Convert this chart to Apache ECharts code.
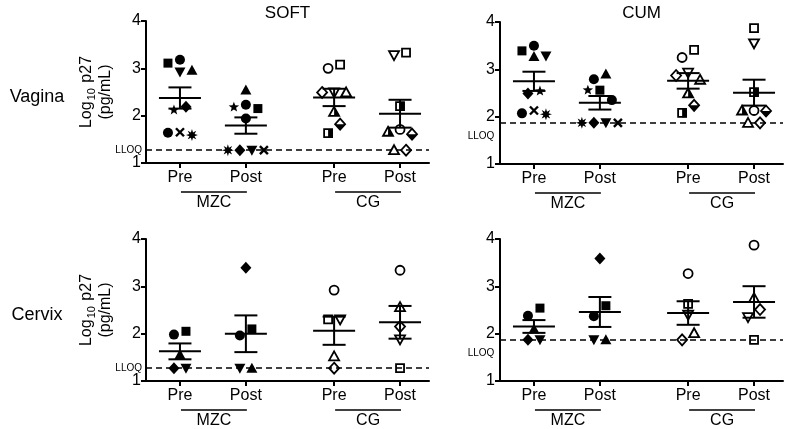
<!DOCTYPE html>
<html><head><meta charset="utf-8">
<script src="https://cdn.jsdelivr.net/npm/echarts@6/dist/echarts.min.js"></script>
<style>html,body{margin:0;padding:0;background:#fff}#c{width:791px;height:429px}</style>
</head><body><div id="c"></div><script>
// ---------- DATA ----------
const groupLabels = ['Pre', 'Post', 'Pre', 'Post'];
const armLabels = ['MZC', 'CG'];
const panelTitles = ['SOFT', 'CUM'];
const rowLabels = ['Vagina', 'Cervix'];
const yTicks = [1, 2, 3, 4];
const lloqSoft = 1.27;
const lloqCum = 1.87;

// subject symbols (one per participant)
const mzcVaginaSymbols = ['square', 'circle', 'tridown', 'tri', 'diamond', 'star', 'cross', 'asterisk', 'circle'];
const cgVaginaSymbols = ['osquare', 'ocircle', 'otridown', 'odiamond', 'otri', 'htri', 'hdiamond', 'hsquare'];
const mzcCervixSymbols = ['circle', 'square', 'tri', 'tridown', 'diamond'];
const cgCervixSymbols = ['ocircle', 'otridown', 'osquare', 'otri', 'odiamond'];

// SOFT, vagina
const softVagMzcPre  = [3.11, 3.18, 2.92, 2.96, 2.19, 2.12, 1.65, 1.59, 1.64];
const softVagMzcPost = [2.15, 2.23, 1.27, 2.54, 1.27, 2.18, 1.27, 1.27, 1.94];
const softVagCgPre   = [3.08, 3.00, 2.49, 2.49, 2.49, 2.08, 1.82, 1.63];
const softVagCgPost  = [3.33, 1.71, 3.28, 1.27, 1.27, 1.66, 1.61, 2.20];
// CUM, vagina
const cumVagMzcPre  = [3.39, 3.50, 3.28, 3.27, 2.49, 2.54, 2.13, 2.05, 2.07];
const cumVagMzcPost = [2.56, 2.79, 1.87, 2.90, 1.87, 2.56, 1.87, 1.87, 2.35];
const cumVagCgPre   = [3.41, 3.25, 2.93, 2.87, 2.78, 2.49, 2.24, 2.08];
const cumVagCgPost  = [3.87, 2.13, 3.55, 1.87, 1.87, 2.13, 2.12, 2.52];
// SOFT, cervix
const softCerMzcPre  = [1.98, 2.05, 1.56, 1.27, 1.27];
const softCerMzcPost = [1.96, 2.10, 1.27, 1.27, 3.39];
const softCerCgPre   = [2.92, 2.30, 2.30, 1.52, 1.27];
const softCerCgPost  = [3.34, 1.88, 1.27, 2.56, 2.15];
// CUM, cervix
const cumCerMzcPre  = [2.38, 2.54, 2.10, 1.87, 1.87];
const cumCerMzcPost = [2.37, 2.59, 1.87, 1.87, 3.59];
const cumCerCgPre   = [3.27, 2.40, 2.63, 2.01, 1.87];
const cumCerCgPost  = [3.87, 2.35, 1.87, 2.75, 2.51];

// ---------- LAYOUT ----------
const FONT = '"Liberation Sans", Arial, Helvetica, sans-serif';
const groupPos = [1.02, 3.0, 5.65, 7.63];
const X_MAX = 8.5;
const gridW = 283, gridH = 142;
const gridLayout = [{left: 146, top: 21}, {left: 500, top: 22}, {left: 146, top: 239}, {left: 500, top: 239}];

const panels = [
  {title: panelTitles[0], row: 0, col: 0, lloq: lloqSoft, vals: [softVagMzcPre, softVagMzcPost, softVagCgPre, softVagCgPost], syms: [mzcVaginaSymbols, cgVaginaSymbols]},
  {title: panelTitles[1], row: 0, col: 1, lloq: lloqCum, vals: [cumVagMzcPre, cumVagMzcPost, cumVagCgPre, cumVagCgPost], syms: [mzcVaginaSymbols, cgVaginaSymbols]},
  {title: null, row: 1, col: 0, lloq: lloqSoft, vals: [softCerMzcPre, softCerMzcPost, softCerCgPre, softCerCgPost], syms: [mzcCervixSymbols, cgCervixSymbols]},
  {title: null, row: 1, col: 1, lloq: lloqCum, vals: [cumCerMzcPre, cumCerMzcPost, cumCerCgPre, cumCerCgPost], syms: [mzcCervixSymbols, cgCervixSymbols]}
];

const symbolNames = ['square','circle','tri','tridown','diamond','star','cross','asterisk',
  'osquare','ocircle','otri','otridown','odiamond','htri','hdiamond','hsquare'];

// beeswarm offsets (pixels) so overlapping points spread sideways
function swarm(vals, pxPerUnit) {
  const d = 12, minD = 10.5;
  const idx = vals.map((v, i) => i).sort((a, b) => vals[b] - vals[a]);
  const off = new Array(vals.length).fill(0);
  const placed = [];
  idx.forEach(i => {
    const y = vals[i] * pxPerUnit;
    for (let k = 0; k < 30; k++) {
      const o = k === 0 ? 0 : (k % 2 ? -Math.ceil(k / 2) * d : Math.ceil(k / 2) * d);
      if (placed.every(p => Math.hypot(p.o - o, p.y - y) >= minD)) { off[i] = o; placed.push({o, y, i}); break; }
    }
  });
  const sorted = placed.slice().sort((a, b) => b.y - a.y);
  let cl = [sorted[0]];
  const flush = () => { const m = cl.reduce((s, p) => s + p.o, 0) / cl.length; cl.forEach(p => off[p.i] -= m); };
  for (let k = 1; k < sorted.length; k++) {
    if (sorted[k - 1].y - sorted[k].y < minD) cl.push(sorted[k]); else { flush(); cl = [sorted[k]]; }
  }
  flush();
  return off;
}

function meanSem(a) {
  const n = a.length, m = a.reduce((s, v) => s + v, 0) / n;
  const sd = Math.sqrt(a.reduce((s, v) => s + (v - m) * (v - m), 0) / (n - 1));
  return [m, sd / Math.sqrt(n)];
}

const K = '#000';
function poly(points, style) { return {type: 'polygon', shape: {points}, style}; }
function starPts(x, y, n, ro, ri) {
  const pts = [];
  for (let i = 0; i < n * 2; i++) {
    const a = -Math.PI / 2 + i * Math.PI / n, r = i % 2 ? ri : ro;
    pts.push([x + r * Math.cos(a), y + r * Math.sin(a)]);
  }
  return pts;
}
function drawSymbol(name, x, y) {
  const solid = {fill: K};
  const open = {fill: '#fff', stroke: K, lineWidth: 1.8};
  switch (name) {
    case 'square': return [{type: 'rect', shape: {x: x - 4.5, y: y - 4.5, width: 9, height: 9}, style: solid}];
    case 'circle': return [{type: 'circle', shape: {cx: x, cy: y, r: 5}, style: solid}];
    case 'tri': return [poly([[x, y - 5.5], [x + 5.5, y + 4.5], [x - 5.5, y + 4.5]], solid)];
    case 'tridown': return [poly([[x, y + 5.5], [x + 5.5, y - 4.5], [x - 5.5, y - 4.5]], solid)];
    case 'diamond': return [poly([[x, y - 6], [x + 5.5, y], [x, y + 6], [x - 5.5, y]], solid)];
    case 'star': return [poly(starPts(x, y, 5, 5.5, 2.3), solid)];
    case 'asterisk': return [poly(starPts(x, y, 8, 6, 2.8), solid)];
    case 'cross': return [
      {type: 'line', shape: {x1: x - 4, y1: y - 4, x2: x + 4, y2: y + 4}, style: {stroke: K, lineWidth: 2.4}},
      {type: 'line', shape: {x1: x - 4, y1: y + 4, x2: x + 4, y2: y - 4}, style: {stroke: K, lineWidth: 2.4}}];
    case 'osquare': return [{type: 'rect', shape: {x: x - 4, y: y - 4, width: 8, height: 8}, style: open}];
    case 'ocircle': return [{type: 'circle', shape: {cx: x, cy: y, r: 4.5}, style: open}];
    case 'otri': return [poly([[x, y - 5], [x + 5, y + 4], [x - 5, y + 4]], open)];
    case 'otridown': return [poly([[x, y + 5], [x + 5, y - 4], [x - 5, y - 4]], open)];
    case 'odiamond': return [poly([[x, y - 5.5], [x + 5, y], [x, y + 5.5], [x - 5, y]], open)];
    case 'htri': return [poly([[x, y - 5], [x + 5, y + 4], [x - 5, y + 4]], open), poly([[x, y - 5], [x + 5, y + 4], [x, y + 4]], solid)];
    case 'hdiamond': return [poly([[x, y - 5.5], [x + 5, y], [x, y + 5.5], [x - 5, y]], open), poly([[x + 5, y], [x, y + 5.5], [x - 5, y]], solid)];
    case 'hsquare': return [{type: 'rect', shape: {x: x - 4, y: y - 4, width: 8, height: 8}, style: open},
      {type: 'rect', shape: {x: x, y: y - 4, width: 4.5, height: 8.5}, style: solid}];
  }
  return [];
}

const grids = [], xAxes = [], yAxes = [], series = [];
const pxPerUnit = gridH / (yTicks[yTicks.length - 1] - yTicks[0]);
panels.forEach((p, pi) => {
  grids.push({left: gridLayout[pi].left, top: gridLayout[pi].top, width: gridW, height: gridH});
  xAxes.push({
    gridIndex: pi, type: 'value', min: 0, max: X_MAX, splitLine: {show: false},
    axisLine: {show: true, onZero: false, lineStyle: {color: K, width: 2}},
    axisTick: {show: true, customValues: groupPos, length: 5, lineStyle: {color: K, width: 2}},
    axisLabel: {customValues: groupPos, color: K, fontSize: 16, fontFamily: FONT, margin: 7,
      formatter: v => { let b = 0; groupPos.forEach((g, i) => { if (Math.abs(g - v) < Math.abs(groupPos[b] - v)) b = i; }); return groupLabels[b]; }}
  });
  yAxes.push({
    gridIndex: pi, type: 'value', min: yTicks[0], max: yTicks[yTicks.length - 1], interval: 1, splitLine: {show: false},
    axisLine: {show: true, lineStyle: {color: K, width: 2}},
    axisTick: {show: true, length: 5, lineStyle: {color: K, width: 2}},
    axisLabel: {color: K, fontSize: 16, fontFamily: FONT, margin: 5}
  });
  const pts = [], bars = [];
  p.vals.forEach((vals, g) => {
    const syms = p.syms[g < 2 ? 0 : 1];
    const off = swarm(vals, pxPerUnit);
    vals.forEach((v, i) => pts.push([groupPos[g], v, symbolNames.indexOf(syms[i]), off[i]]));
    const ms = meanSem(vals);
    bars.push([groupPos[g], ms[0], ms[1]]);
  });
  series.push({
    type: 'custom', xAxisIndex: pi, yAxisIndex: pi, data: pts, clip: false, z: 3,
    encode: {x: 0, y: 1},
    renderItem: (params, api) => {
      const c = api.coord([api.value(0), api.value(1)]);
      return {type: 'group', children: drawSymbol(symbolNames[api.value(2)], c[0] + api.value(3), c[1])};
    }
  });
  series.push({
    type: 'custom', xAxisIndex: pi, yAxisIndex: pi, data: bars, clip: false, z: 4,
    encode: {x: 0, y: 1},
    renderItem: (params, api) => {
      const x = api.value(0), m = api.value(1), s = api.value(2);
      const cm = api.coord([x, m]), ch = api.coord([x, m + s]), cl = api.coord([x, m - s]);
      const st = {stroke: K, lineWidth: 2};
      return {type: 'group', children: [
        {type: 'line', shape: {x1: cm[0] - 21, y1: cm[1], x2: cm[0] + 21, y2: cm[1]}, style: st},
        {type: 'line', shape: {x1: ch[0] - 11.5, y1: ch[1], x2: ch[0] + 11.5, y2: ch[1]}, style: st},
        {type: 'line', shape: {x1: cl[0] - 11.5, y1: cl[1], x2: cl[0] + 11.5, y2: cl[1]}, style: st},
        {type: 'line', shape: {x1: ch[0], y1: ch[1], x2: cl[0], y2: cl[1]}, style: st}
      ]};
    },
    markLine: {silent: true, symbol: 'none', label: {show: false},
      lineStyle: {color: K, width: 1.5, type: [6, 4]}, data: [{yAxis: p.lloq}]}
  });
});

const chart = echarts.init(document.getElementById('c'), null, {renderer: 'canvas'});
chart.setOption({animation: false, backgroundColor: '#fff', grid: grids, xAxis: xAxes, yAxis: yAxes, series});

// ---------- annotations ----------
const gfx = [];
const txt = (x, y, text, size, extra) => Object.assign({type: 'text', x, y, style: Object.assign({text, fontSize: size, fontFamily: FONT, fill: K, align: 'center', verticalAlign: 'middle'}, extra || {})});
panels.forEach((p, pi) => {
  const gp = groupPos.map(x => chart.convertToPixel({gridIndex: pi}, [x, yTicks[0]]));
  const bottom = gp[0][1];
  const top = chart.convertToPixel({gridIndex: pi}, [0, yTicks[yTicks.length - 1]])[1];
  const axisX = chart.convertToPixel({gridIndex: pi}, [0, yTicks[0]])[0];
  const midY = (top + bottom) / 2;
  const lloqY = chart.convertToPixel({gridIndex: pi}, [0, p.lloq])[1];
  if (p.title) gfx.push(txt(axisX + gridW / 2, 13, p.title, 17));
  if (p.col === 0) {
    gfx.push(txt(37, midY + 5, rowLabels[p.row], 18));
    gfx.push({type: 'text', x: 87, y: midY, rotation: Math.PI / 2, style: {
      text: '{a|Log}{s|10}{a| p27}', fontFamily: FONT, fill: K, align: 'center', verticalAlign: 'middle',
      rich: {a: {fontSize: 16, fontFamily: FONT, lineHeight: 20}, s: {fontSize: 11, fontFamily: FONT, lineHeight: 20, padding: [9, 1, 0, 1]}}}});
    gfx.push({type: 'text', x: 106, y: midY, rotation: Math.PI / 2, style: {
      text: '(pg/mL)', fontSize: 16, fontFamily: FONT, fill: K, align: 'center', verticalAlign: 'middle'}});
    gfx.push(txt(axisX - 4, lloqY, 'LLOQ', 10, {align: 'right'}));
  } else {
    gfx.push(txt(axisX - 19, lloqY + 13, 'LLOQ', 10));
  }
  [[0, 1], [2, 3]].forEach((pair, ai) => {
    const x1 = gp[pair[0]][0] + 1, x2 = gp[pair[1]][0] + 1;
    gfx.push({type: 'line', shape: {x1, y1: bottom + 29, x2, y2: bottom + 29}, style: {stroke: K, lineWidth: 1.5}});
    gfx.push(txt((x1 + x2) / 2, bottom + 40, armLabels[ai], 16));
  });
});
chart.setOption({graphic: gfx});
</script></body></html>
